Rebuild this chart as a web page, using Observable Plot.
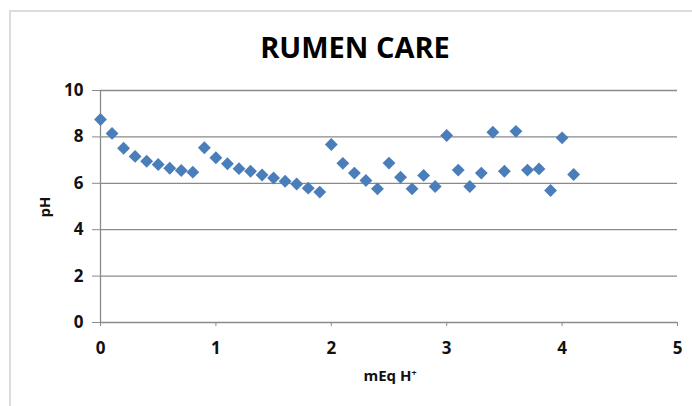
<!DOCTYPE html>
<html>
<head>
<meta charset="utf-8">
<script src="https://cdn.jsdelivr.net/npm/d3@7"></script>
<script src="https://cdn.jsdelivr.net/npm/@observablehq/plot@0.6"></script>
<style>
  html, body { margin: 0; padding: 0; background: #fff; }
  #wrap { position: relative; width: 692px; height: 406px; background: #fff; overflow: hidden; }
  #frame { position: absolute; left: 9px; top: 10px; right: -5px; bottom: -5px; border-left: 2px solid #dcdcdc; border-top: 2px solid #dcdcdc; }
  #chart { position: absolute; left: 0; top: 0; }
  .lbl { position: absolute; font-family: "Open Sans", sans-serif; font-weight: bold; color: #111; white-space: nowrap; }
  #title { left: 355px; top: 32px; font-size: 29px; line-height: 29px; transform: translateX(-50%); color: #000; }
  #xlabel { left: 390px; top: 368px; font-size: 15px; line-height: 15px; transform: translateX(-50%); }
  #ylabel { left: 44px; top: 207px; font-size: 15px; line-height: 15px; transform: translate(-50%, -50%) rotate(-90deg); }
  sup { font-size: 0.6em; vertical-align: 0.55em; line-height: 0; }
</style>
</head>
<body>
<div id="wrap">
  <div id="frame"></div>
  <div id="chart"></div>
  <div class="lbl" id="title">RUMEN CARE</div>
  <div class="lbl" id="xlabel">mEq H<sup>+</sup></div>
  <div class="lbl" id="ylabel">pH</div>
</div>
<script>
const mEq = [0, 0.1, 0.2, 0.3, 0.4, 0.5, 0.6, 0.7, 0.8, 0.9,
             1.0, 1.1, 1.2, 1.3, 1.4, 1.5, 1.6, 1.7, 1.8, 1.9,
             2.0, 2.1, 2.2, 2.3, 2.4, 2.5, 2.6, 2.7, 2.8, 2.9,
             3.0, 3.1, 3.2, 3.3, 3.4, 3.5, 3.6, 3.7, 3.8, 3.9,
             4.0, 4.1];
const pH = [8.75, 8.15, 7.51, 7.16, 6.95, 6.81, 6.65, 6.55, 6.48, 7.53,
            7.10, 6.84, 6.63, 6.52, 6.36, 6.23, 6.09, 5.97, 5.79, 5.62,
            7.67, 6.86, 6.44, 6.12, 5.76, 6.87, 6.26, 5.76, 6.34, 5.86,
            8.06, 6.57, 5.86, 6.44, 8.20, 6.52, 8.24, 6.57, 6.62, 5.69,
            7.96, 6.38];
const xTicks = [0, 1, 2, 3, 4, 5];
const yTicks = [0, 2, 4, 6, 8, 10];

const data = mEq.map((x, i) => ({x, y: pH[i]}));
const gridColor = "#8a8a8a";
const fmt = d3.format("d");

const chart = Plot.plot({
  width: 692,
  height: 406,
  marginLeft: 100,
  marginRight: 15,
  marginTop: 90,
  marginBottom: 84,
  style: {fontFamily: "'Open Sans', sans-serif", fontWeight: "bold", fontSize: "17px", background: "transparent", color: "#111"},
  x: {domain: [0, 5]},
  y: {domain: [0, 10]},
  marks: [
    Plot.gridY(yTicks.filter(d => d > 0), {stroke: gridColor, strokeOpacity: 1, strokeWidth: 1.3}),
    Plot.ruleY([0], {stroke: gridColor, strokeWidth: 1.3}),
    Plot.ruleX([0], {stroke: gridColor, strokeWidth: 1.3}),
    Plot.axisY(yTicks, {tickSize: 8, tickPadding: 9, stroke: gridColor, fill: "#111", label: null, fontSize: 17, tickFormat: fmt}),
    Plot.axisX(xTicks, {tickSize: 4, tickPadding: 15, stroke: gridColor, fill: "#111", label: null, fontSize: 17, tickFormat: fmt}),
    Plot.dot(data, {x: "x", y: "y", symbol: "diamond2", r: 5.8, fill: "#4a7ebb", stroke: "none"})
  ]
});
document.getElementById("chart").appendChild(chart);
</script>
</body>
</html>
